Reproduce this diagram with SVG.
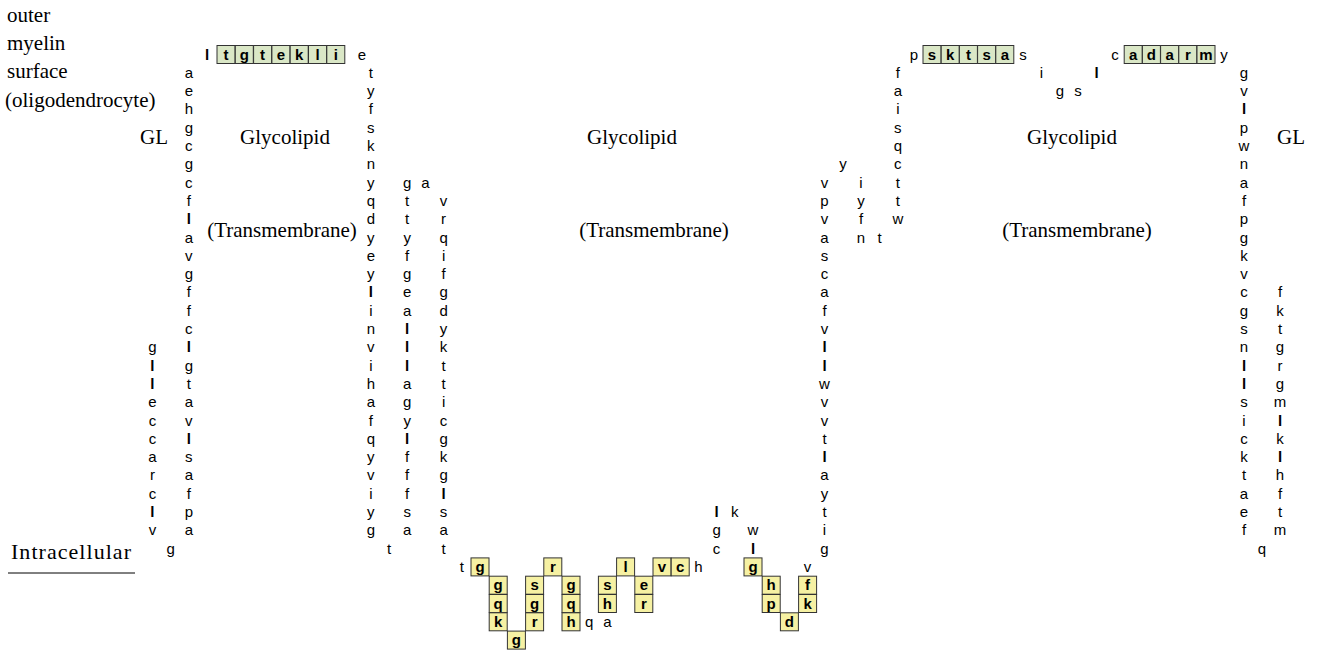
<svg xmlns="http://www.w3.org/2000/svg" width="1317" height="656" viewBox="0 0 1317 656">
<style>
text{font-family:"Liberation Sans",Arial,sans-serif;font-size:15px;fill:#000;text-anchor:middle}
.l{font-weight:bold}
.s{font-family:"Liberation Serif","Times New Roman",serif;font-size:21px;text-anchor:start}
.sm{font-family:"Liberation Serif","Times New Roman",serif;font-size:21px;text-anchor:middle}
.bx use{stroke:#333;stroke-width:1}
.bx text{font-weight:bold;font-size:15px}
.gr use{fill:#dae7c6}
.ye use{fill:#f6f1a3}
</style>
<defs>
<rect id="box" x="-9" y="-9" width="18" height="18"/>
</defs>
<g id="labels">
<text class="s" x="7" y="22">outer</text>
<text class="s" x="7" y="50">myelin</text>
<text class="s" x="7" y="78">surface</text>
<text class="s" x="5" y="107">(oligodendrocyte)</text>
<text class="s" x="140" y="144">GL</text>
<text class="s" x="1277" y="144">GL</text>
<text class="sm" x="285" y="144">Glycolipid</text>
<text class="sm" x="632" y="144">Glycolipid</text>
<text class="sm" x="1072" y="144">Glycolipid</text>
<text class="sm" x="282" y="237">(Transmembrane)</text>
<text class="sm" x="654" y="237">(Transmembrane)</text>
<text class="sm" x="1077" y="237">(Transmembrane)</text>
<text class="s" x="11" y="559" style="font-size:22px" textLength="120">Intracellular</text>
<line x1="8" y1="573" x2="135" y2="573" stroke="#000" stroke-width="1"/>
</g>
<g id="connectors"/>
<g id="seg-a" transform="translate(152.4 0)">
<text y="352.3">g</text><text class="l" y="370.6">l</text><text class="l" y="388.9">l</text><text y="407.2">e</text><text y="425.5">c</text><text y="443.8">c</text><text y="462.1">a</text><text y="480.4">r</text><text y="498.7">c</text><text class="l" y="517.0">l</text><text y="535.3">v</text>
</g>
<g id="seg-b"><text x="170.6" y="553.6">g</text></g>
<g id="tm1" transform="translate(188.8 0)">
<text y="77.8">a</text><text y="96.1">e</text><text y="114.4">h</text><text y="132.7">g</text><text y="151.0">c</text><text y="169.3">g</text><text y="187.6">c</text><text y="205.9">f</text><text class="l" y="224.2">l</text><text y="242.5">a</text><text y="260.8">v</text><text y="279.1">g</text><text y="297.4">f</text><text y="315.7">f</text><text y="334.0">c</text><text class="l" y="352.3">l</text><text y="370.6">g</text><text y="388.9">t</text><text y="407.2">a</text><text y="425.5">v</text><text class="l" y="443.8">l</text><text y="462.1">s</text><text y="480.4">a</text><text y="498.7">f</text><text y="517.0">p</text><text y="535.3">a</text>
</g>
<g id="ext1">
<text class="l" x="207" y="59.5">l</text>
<g class="bx gr">
<g transform="translate(226 54.5)"><use href="#box"/><text y="5">t</text></g>
<g transform="translate(244.3 54.5)"><use href="#box"/><text y="5">g</text></g>
<g transform="translate(262.6 54.5)"><use href="#box"/><text y="5">t</text></g>
<g transform="translate(280.9 54.5)"><use href="#box"/><text y="5">e</text></g>
<g transform="translate(299.2 54.5)"><use href="#box"/><text y="5">k</text></g>
<g transform="translate(317.5 54.5)"><use href="#box"/><text y="5">l</text></g>
<g transform="translate(335.8 54.5)"><use href="#box"/><text y="5">i</text></g>
</g>
<text x="362" y="59.5">e</text>
</g>
<g id="tm2" transform="translate(370.8 0)">
<text y="77.8">t</text><text y="96.1">y</text><text y="114.4">f</text><text y="132.7">s</text><text y="151.0">k</text><text y="169.3">n</text><text y="187.6">y</text><text y="205.9">q</text><text y="224.2">d</text><text y="242.5">y</text><text y="260.8">e</text><text y="279.1">y</text><text class="l" y="297.4">l</text><text y="315.7">i</text><text y="334.0">n</text><text y="352.3">v</text><text y="370.6">i</text><text y="388.9">h</text><text y="407.2">a</text><text y="425.5">f</text><text y="443.8">q</text><text y="462.1">y</text><text y="480.4">v</text><text y="498.7">i</text><text y="517.0">y</text><text y="535.3">g</text>
</g>
<g id="int1"><text x="389" y="553.6">t</text></g>
<g id="tm3" transform="translate(407.2 0)">
<text y="187.6">g</text><text y="205.9">t</text><text y="224.2">t</text><text y="242.5">y</text><text y="260.8">f</text><text y="279.1">g</text><text y="297.4">e</text><text y="315.7">a</text><text class="l" y="334.0">l</text><text class="l" y="352.3">l</text><text class="l" y="370.6">l</text><text y="388.9">a</text><text y="407.2">g</text><text y="425.5">y</text><text class="l" y="443.8">l</text><text y="462.1">f</text><text y="480.4">f</text><text y="498.7">f</text><text y="517.0">s</text><text y="535.3">a</text>
</g>
<g id="turn1"><text x="425.4" y="187.6">a</text></g>
<g id="tm4" transform="translate(443.6 0)">
<text y="205.9">v</text><text y="224.2">r</text><text y="242.5">q</text><text y="260.8">i</text><text y="279.1">f</text><text y="297.4">g</text><text y="315.7">d</text><text y="334.0">y</text><text y="352.3">k</text><text y="370.6">t</text><text y="388.9">t</text><text y="407.2">i</text><text y="425.5">c</text><text y="443.8">g</text><text y="462.1">k</text><text y="480.4">g</text><text class="l" y="498.7">l</text><text y="517.0">s</text><text y="535.3">a</text><text y="553.6">t</text>
</g>
<g id="int2">
<text x="461.8" y="571.9">t</text>
<g class="bx ye">
<g transform="translate(480 566.9)"><use href="#box"/><text y="5">g</text></g>
<g transform="translate(498.2 585.2)"><use href="#box"/><text y="5">g</text></g>
<g transform="translate(498.2 603.5)"><use href="#box"/><text y="5">q</text></g>
<g transform="translate(498.2 621.8)"><use href="#box"/><text y="5">k</text></g>
<g transform="translate(516.4 640.1)"><use href="#box"/><text y="5">g</text></g>
<g transform="translate(534.6 585.2)"><use href="#box"/><text y="5">s</text></g>
<g transform="translate(534.6 603.5)"><use href="#box"/><text y="5">g</text></g>
<g transform="translate(534.6 621.8)"><use href="#box"/><text y="5">r</text></g>
<g transform="translate(552.8 566.9)"><use href="#box"/><text y="5">r</text></g>
<g transform="translate(571 585.2)"><use href="#box"/><text y="5">g</text></g>
<g transform="translate(571 603.5)"><use href="#box"/><text y="5">q</text></g>
<g transform="translate(571 621.8)"><use href="#box"/><text y="5">h</text></g>
<g transform="translate(607.4 585.2)"><use href="#box"/><text y="5">s</text></g>
<g transform="translate(607.4 603.5)"><use href="#box"/><text y="5">h</text></g>
<g transform="translate(625.6 566.9)"><use href="#box"/><text y="5">l</text></g>
<g transform="translate(643.8 585.2)"><use href="#box"/><text y="5">e</text></g>
<g transform="translate(643.8 603.5)"><use href="#box"/><text y="5">r</text></g>
<g transform="translate(662 566.9)"><use href="#box"/><text y="5">v</text></g>
<g transform="translate(680.2 566.9)"><use href="#box"/><text y="5">c</text></g>
<g transform="translate(753 566.9)"><use href="#box"/><text y="5">g</text></g>
<g transform="translate(771.2 585.2)"><use href="#box"/><text y="5">h</text></g>
<g transform="translate(771.2 603.5)"><use href="#box"/><text y="5">p</text></g>
<g transform="translate(789.4 621.8)"><use href="#box"/><text y="5">d</text></g>
<g transform="translate(807.6 585.2)"><use href="#box"/><text y="5">f</text></g>
<g transform="translate(807.6 603.5)"><use href="#box"/><text y="5">k</text></g>
</g>
<text x="589.2" y="626.8">q</text><text x="607.4" y="626.8">a</text>
<text x="698.4" y="571.9">h</text>
<text class="l" x="716.6" y="517.0">l</text><text x="716.6" y="535.3">g</text><text x="716.6" y="553.6">c</text>
<text x="734.8" y="517.0">k</text>
<text x="753" y="535.3">w</text><text class="l" x="753" y="553.6">l</text>
<text x="807.6" y="571.9">v</text>
</g>
<g id="tm5" transform="translate(824.5 0)">
<text y="187.6">v</text><text y="205.9">p</text><text y="224.2">v</text><text y="242.5">a</text><text y="260.8">s</text><text y="279.1">c</text><text y="297.4">a</text><text y="315.7">f</text><text y="334.0">v</text><text class="l" y="352.3">l</text><text class="l" y="370.6">l</text><text y="388.9">w</text><text y="407.2">v</text><text y="425.5">v</text><text y="443.8">t</text><text class="l" y="462.1">l</text><text y="480.4">a</text><text y="498.7">y</text><text y="517.0">t</text><text y="535.3">i</text><text y="553.6">g</text>
</g>
<g id="loop2">
<text x="843" y="169.3">y</text>
<text x="861" y="187.6">i</text><text x="861" y="205.9">y</text><text x="861" y="224.2">f</text><text x="861" y="242.5">n</text>
<text x="879.5" y="242.5">t</text>
</g>
<g id="tm6" transform="translate(897.8 0)">
<text y="77.8">f</text><text y="96.1">a</text><text y="114.4">i</text><text y="132.7">s</text><text y="151.0">q</text><text y="169.3">c</text><text y="187.6">t</text><text y="205.9">t</text><text y="224.2">w</text>
</g>
<g id="ext2">
<text x="914" y="59.5">p</text>
<g class="bx gr">
<g transform="translate(932 54.5)"><use href="#box"/><text y="5">s</text></g>
<g transform="translate(950.2 54.5)"><use href="#box"/><text y="5">k</text></g>
<g transform="translate(968.4 54.5)"><use href="#box"/><text y="5">t</text></g>
<g transform="translate(986.6 54.5)"><use href="#box"/><text y="5">s</text></g>
<g transform="translate(1004.8 54.5)"><use href="#box"/><text y="5">a</text></g>
</g>
<text x="1023" y="59.5">s</text>
<text x="1041.5" y="77.8">i</text>
<text x="1060" y="96.1">g</text>
<text x="1078" y="96.1">s</text>
<text class="l" x="1096.5" y="77.8">l</text>
<text x="1115" y="59.5">c</text>
<g class="bx gr">
<g transform="translate(1133.2 54.5)"><use href="#box"/><text y="5">a</text></g>
<g transform="translate(1151.4 54.5)"><use href="#box"/><text y="5">d</text></g>
<g transform="translate(1169.6 54.5)"><use href="#box"/><text y="5">a</text></g>
<g transform="translate(1187.8 54.5)"><use href="#box"/><text y="5">r</text></g>
<g transform="translate(1206 54.5)"><use href="#box"/><text y="5">m</text></g>
</g>
<text x="1224" y="59.5">y</text>
</g>
<g id="tm7" transform="translate(1244 0)">
<text y="77.8">g</text><text y="96.1">v</text><text class="l" y="114.4">l</text><text y="132.7">p</text><text y="151.0">w</text><text y="169.3">n</text><text y="187.6">a</text><text y="205.9">f</text><text y="224.2">p</text><text y="242.5">g</text><text y="260.8">k</text><text y="279.1">v</text><text y="297.4">c</text><text y="315.7">g</text><text y="334.0">s</text><text y="352.3">n</text><text class="l" y="370.6">l</text><text class="l" y="388.9">l</text><text y="407.2">s</text><text y="425.5">i</text><text y="443.8">c</text><text y="462.1">k</text><text y="480.4">t</text><text y="498.7">a</text><text y="517.0">e</text><text y="535.3">f</text>
</g>
<g id="int3"><text x="1262" y="553.6">q</text></g>
<g id="tm8" transform="translate(1280 0)">
<text y="297.4">f</text><text y="315.7">k</text><text y="334.0">t</text><text y="352.3">g</text><text y="370.6">r</text><text y="388.9">g</text><text y="407.2">m</text><text class="l" y="425.5">l</text><text y="443.8">k</text><text class="l" y="462.1">l</text><text y="480.4">h</text><text y="498.7">f</text><text y="517.0">t</text><text y="535.3">m</text>
</g>
</svg>
